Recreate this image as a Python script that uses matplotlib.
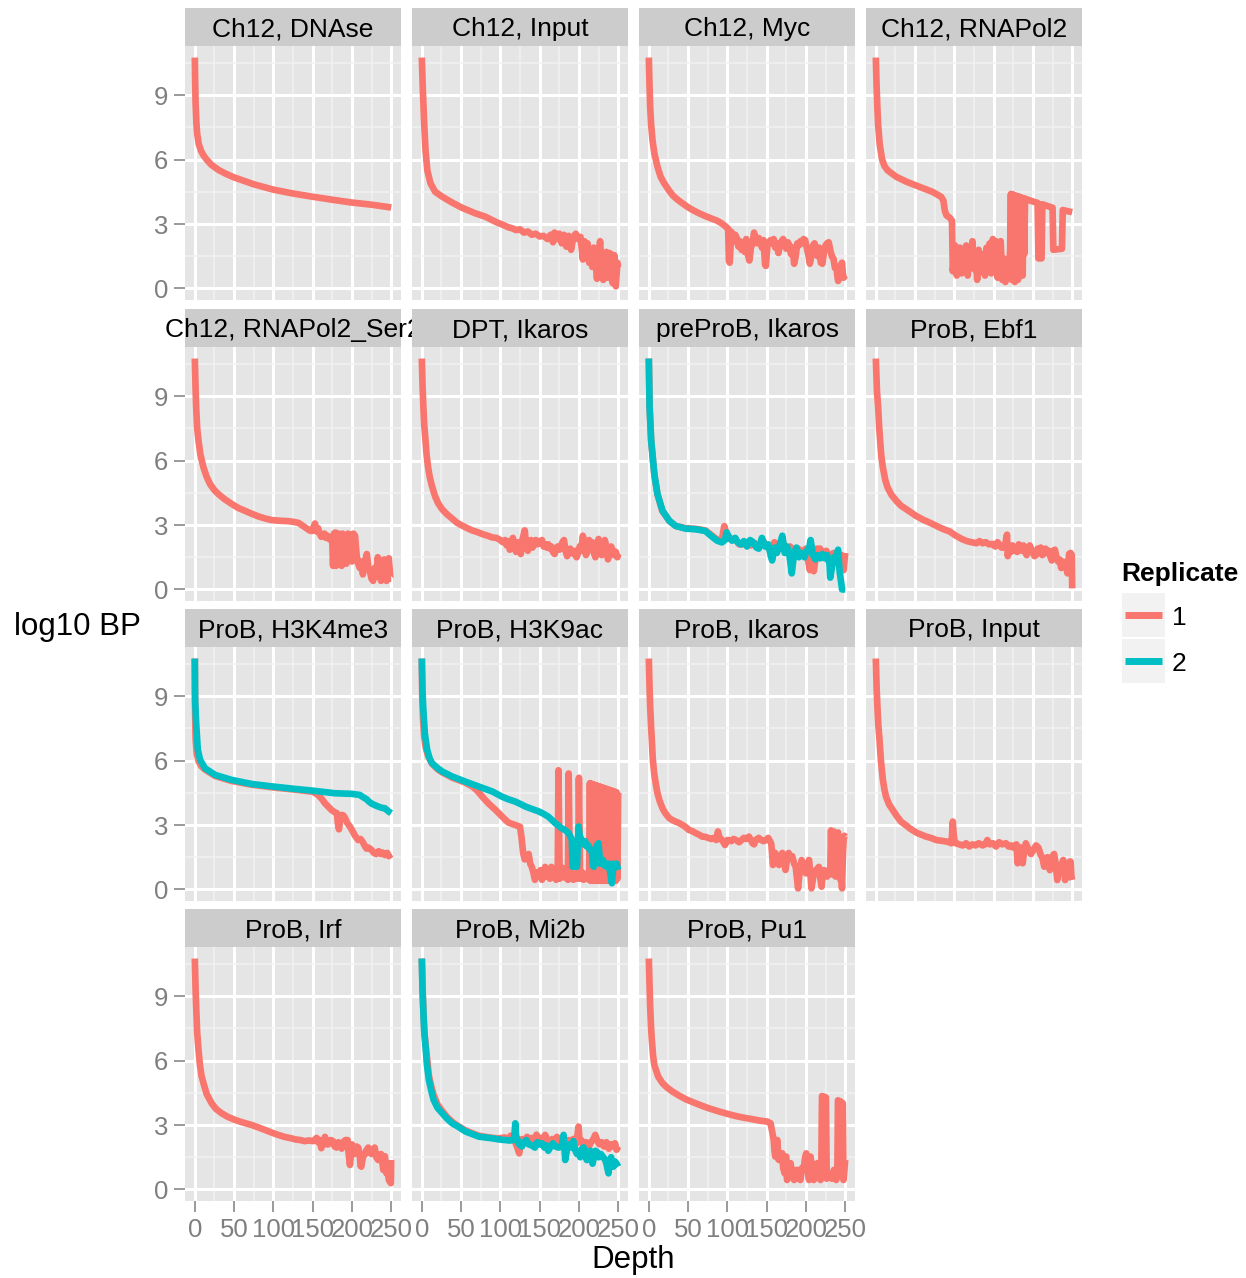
import matplotlib
matplotlib.use("Agg")
import matplotlib.pyplot as plt
from matplotlib.patches import Rectangle
from matplotlib.lines import Line2D

plt.rcParams['font.family'] = ['Liberation Sans', 'DejaVu Sans']

# ---------------- data: (depth, log10 BP) pairs ----------------
ch12_dnase_r1 = [(0,10.75),(0.5,9.5),(1,8.6),(2,7.7),(3,7.2),(5,6.72),(8,6.4),(11,6.2),(15,6.0),(21,5.76),
                 (30,5.52),(40,5.33),(50,5.17),(75,4.85),(100,4.6),(125,4.42),(150,4.27),(175,4.13),(200,4.0),
                 (225,3.9),(250,3.77)]

ch12_input_r1 = [(0,10.75),(1.3,9.24),(3,7.7),(4.7,6.44),(7,5.5),(11,4.9),(17,4.5),(26,4.27),(39,3.99),(51,3.76),
                 (68,3.5),(81,3.34),(94,3.1),(104,2.95),(110,2.85),(115,2.8),(120,2.72),(125,2.75),(130,2.6),(135,2.65),
                 (140,2.5),(145,2.55),(150,2.42),(155,2.45),(160,2.3),(164,2.5),(167,2.15),(169,2.6),(172,2.3),(175,2.55),
                 (178,2.1),(181,2.5),(184,1.95),(187,2.45),(190,1.8),(193,2.4),(196,2.55),(199,2.3),(202,2.4),(205,1.35),
                 (207,2.2),(209,1.6),(211,2.1),(213,1.2),(215,1.8),(217,1.0),(219,1.9),(221,1.4),(223,0.45),(225,1.5),
                 (227,2.2),(229,0.7),(231,0.4),(233,0.8),(235,1.7),(237,0.5),(239,1.65),(241,1.6),(243,0.25),(245,1.55),
                 (247,0.1),(249,1.2),(250,1.0)]

ch12_myc_r1 = [(0,10.75),(1,9.3),(1.7,8.46),(3,7.6),(4.7,6.9),(7,6.3),(11,5.67),(15,5.2),(19.5,4.9),(25,4.6),
               (30,4.35),(36,4.15),(43,3.96),(50,3.78),(56,3.65),(64,3.5),(72,3.37),(80,3.25),(86,3.17),(92,3.05),
               (98,2.88),(101,2.78),(102,1.3),(103,1.2),(105,2.64),(107,2.45),(108.5,2.2),(110,2.5),(112,2.35),(114,1.95),
               (116,2.2),(118,1.8),(120,2.0),(122,1.7),(124,2.3),(126,1.6),(128,1.3),(130,1.9),(132,2.1),(134,2.6),
               (136,2.3),(138,2.1),(140,2.35),(142,2.2),(144,1.9),(146,2.25),(148,1.1),(149,1.05),(151,2.0),(153,2.15),
               (155,2.25),(157,2.1),(159,2.3),(161,1.9),(163,2.1),(165,1.65),(167,2.0),(169,2.2),(171,2.3),(173,2.1),
               (175,1.85),(177,2.15),(179,2.0),(181,1.6),(183,1.9),(185,1.15),(187,1.5),(189,2.1),(191,2.0),(193,2.2),
               (195,2.1),(197,2.3),(199,2.25),(201,1.9),(203,1.6),(205,1.15),(207,1.5),(209,2.0),(211,2.1),(213,1.7),
               (215,1.5),(217,1.9),(219,1.2),(221,1.15),(223,1.7),(225,2.0),(227,2.1),(229,2.15),(231,1.8),(233,1.5),
               (235,1.4),(237,0.95),(239,1.0),(240,0.6),(241,0.35),(243,0.55),(244,1.05),(246,1.2),(247,0.7),(248,0.5),
               (250,0.6)]

ch12_rnapol2_r1 = [(0,10.75),(1,9.4),(2,8.4),(3,7.6),(5,6.7),(8,6.0),(11,5.7),(15,5.5),(26,5.2),(39,4.97),
                   (55,4.74),(72,4.5),(83,4.27),(86,4.1),(88,3.6),(90,3.4),(94,3.3),(97,3.15),(98,0.8),(101,2.0),
                   (103,0.6),(105,1.5),(107,1.9),(109,0.7),(111,1.8),(113,1.1),(115,2.0),(117,0.6),(119,1.7),(121,1.2),
                   (123,2.2),(125,0.9),(127,1.7),(129,0.4),(131,1.8),(133,0.8),(135,1.6),(137,1.4),(139,0.6),(141,1.9),
                   (143,1.0),(145,2.1),(147,0.7),(149,2.3),(151,1.3),(153,2.2),(155,0.5),(157,1.5),(159,2.2),(161,0.4),
                   (163,1.4),(165,0.3),(167,1.3),(169,0.5),(171,1.8),(172,4.4),(173,0.4),(174,4.38),(175,0.5),(176,4.35),
                   (177,0.3),(178,4.32),(179,1.0),(180,4.3),(181,0.4),(182,4.28),(183,0.8),(184,4.25),(185,1.3),(186,4.22),
                   (187,0.6),(188,4.2),(189,1.6),(190,4.18),(192,4.15),(200,4.05),(206,3.98),(207,1.4),(211,1.4),(212,3.92),
                   (220,3.82),(225,3.76),(226,1.8),(237,1.85),(238,3.65),(250,3.55)]

ch12_ser2_r1 = [(0,10.75),(1,9.3),(1.7,8.48),(3,7.5),(4.7,6.93),(7,6.3),(11,5.68),(15,5.25),(19.5,4.9),(25,4.62),
                (30,4.44),(38,4.2),(47,3.98),(55,3.8),(64,3.66),(72,3.53),(81,3.4),(90,3.3),(98,3.23),(108,3.2),
                (119,3.18),(125,3.15),(132,3.1),(138,2.95),(142,2.85),(146,2.75),(149,2.72),(151,2.9),(153,3.07),(155,2.7),
                (157,2.85),(159,2.6),(161,2.45),(163,2.55),(165,2.6),(167,2.4),(169,2.5),(171,2.35),(173,2.3),(175,2.25),
                (176,1.1),(177,2.6),(178,1.2),(179,2.65),(180,1.1),(181,2.5),(182,1.3),(183,2.6),(184,1.15),(185,2.55),
                (187,1.1),(188,2.6),(190,1.3),(192,2.5),(193,1.2),(195,2.6),(197,1.4),(199,2.55),(200,1.3),(202,2.6),
                (204,2.5),(206,1.6),(208,1.2),(210,1.0),(212,1.3),(214,0.7),(216,1.2),(219,1.65),(221,1.0),(223,0.85),
                (225,0.5),(227,0.4),(229,1.0),(231,0.6),(233,1.5),(235,0.9),(237,0.4),(239,1.1),(241,1.4),(243,0.5),
                (244,0.4),(246,1.3),(247,1.45),(249,0.5),(250,0.5)]

dpt_ikaros_r1 = [(0,10.75),(1,9.4),(2,8.48),(3,7.7),(4.7,6.93),(6,6.3),(8,5.68),(10,5.25),(12.3,4.9),(15,4.55),
                 (17.4,4.29),(21,4.0),(26,3.73),(32,3.5),(38.6,3.3),(45,3.1),(51,2.98),(58,2.85),(64,2.75),(70,2.68),
                 (77,2.58),(84,2.5),(90,2.42),(95,2.4),(100,2.3),(103,2.2),(106,2.3),(108,2.05),(110,2.25),(112,1.85),
                 (114,2.2),(116,2.4),(118,1.95),(120,1.75),(122,2.2),(124,2.05),(126,1.65),(128,2.3),(131,2.75),(133,2.0),
                 (135,1.8),(137,2.2),(139,2.3),(141,1.95),(143,2.2),(145,2.3),(147,2.1),(149,2.25),(151,2.15),(153,2.3),
                 (155,2.0),(157,2.1),(159,1.95),(161,2.1),(163,1.9),(165,2.0),(167,1.75),(169,1.65),(171,1.9),(173,2.0),
                 (175,1.85),(177,1.95),(179,2.2),(181,2.3),(183,1.8),(185,1.55),(187,1.7),(189,1.9),(191,1.75),(193,1.65),
                 (195,1.8),(197,1.5),(199,1.7),(201,2.0),(203,1.8),(205,2.5),(207,2.2),(209,1.6),(211,1.8),(213,2.3),
                 (215,1.9),(217,2.2),(219,1.7),(221,1.5),(223,1.9),(225,2.35),(227,2.0),(229,1.6),(231,1.9),(233,2.3),
                 (235,2.0),(237,1.4),(239,1.7),(241,2.0),(243,1.8),(245,1.6),(247,1.75),(249,1.5),(250,1.65)]

preprob_ikaros_r1 = [(0,10.75),(1,8.5),(3,6.9),(7,5.35),(11,4.44),(17,3.66),(26,3.2),(34,2.96),(47,2.85),(60,2.82),
                     (72,2.75),(79,2.55),(87,2.32),(93,2.3),(96,2.95),(99,2.6),(103,2.35),(110,2.35),(115,2.1),(120,2.1),
                     (125,2.2),(130,2.05),(135,2.15),(140,1.95),(145,2.3),(150,2.0),(155,1.85),(160,2.2),(165,1.9),(170,2.3),
                     (175,1.8),(180,2.0),(185,1.7),(190,1.9),(195,1.75),(200,1.9),(205,0.9),(208,1.4),(210,0.85),(214,1.9),
                     (218,1.9),(222,1.6),(226,1.8),(230,1.45),(235,1.7),(240,1.55),(245,1.6),(248,0.9),(250,1.7)]

preprob_ikaros_r2 = [(0,10.75),(1,8.48),(3,6.93),(7,5.37),(11,4.44),(17.5,3.66),(26,3.2),(34,2.96),(47,2.83),(60,2.8),
                     (72,2.72),(79,2.5),(87,2.27),(93,2.19),(97,2.3),(99,2.66),(102,2.45),(106,2.27),(110,2.4),(113,2.2),
                     (117,2.1),(121,2.25),(125,2.0),(129,2.3),(133,2.2),(137,1.95),(140,1.9),(144,2.4),(148,2.0),(152,2.1),
                     (155,1.6),(157,1.35),(160,1.95),(163,1.7),(166,2.0),(170,2.5),(173,1.7),(176,2.0),(179,1.6),(182,0.75),
                     (185,1.7),(188,1.95),(191,1.5),(194,1.7),(198,1.5),(201,1.8),(204,1.9),(206,2.3),(209,1.6),(212,1.4),
                     (215,1.6),(218,1.45),(221,1.65),(224,1.45),(227,1.6),(230,1.2),(231,0.55),(233,1.0),(236,1.5),(239,1.6),
                     (241,1.85),(243,0.8),(245,0.3),(246,0.0),(250,0.0)]

prob_ebf1_r1 = [(0,10.75),(1.5,9.2),(3,8.48),(4.2,7.6),(5.5,6.93),(7,6.2),(9,5.68),(12,5.1),(15,4.75),(20,4.4),
                (26,4.13),(32,3.9),(38.6,3.74),(45,3.58),(51,3.43),(60,3.25),(68,3.12),(75,3.0),(81,2.89),(88,2.78),
                (94,2.7),(102,2.5),(110,2.34),(116,2.25),(123,2.19),(128,2.15),(132,2.25),(136,2.15),(140,2.2),(144,2.1),
                (149,2.12),(152,2.0),(155,2.2),(157,2.1),(160,1.95),(163,1.95),(165,2.15),(167,2.55),(168,1.55),(170,2.0),
                (172,1.75),(174,2.05),(176,1.8),(178,1.9),(180,1.75),(182,2.1),(184,2.0),(186,1.8),(188,2.05),(190,1.75),
                (192,1.6),(194,1.9),(196,2.05),(198,1.85),(200,1.7),(202,1.55),(204,1.6),(206,1.9),(208,1.7),(210,1.95),
                (212,1.6),(214,1.65),(216,1.9),(218,1.75),(220,1.8),(222,1.55),(224,1.35),(226,1.8),(228,1.85),(230,1.5),
                (232,1.3),(234,1.4),(236,1.0),(238,1.3),(240,1.2),(242,1.1),(244,0.75),(246,1.65),(248,1.7),(249.5,1.6),
                (250,0.05)]

prob_h3k4me3_r1 = [(0,10.75),(0.3,8.5),(1,7.0),(2.5,6.3),(5,5.95),(8,5.75),(13,5.58),(26,5.28),(47,5.05),(72,4.88),
                   (100,4.75),(127,4.65),(150,4.55),(157,4.4),(162,4.2),(166,4.0),(170,3.85),(174,3.7),(178,3.6),(181,3.55),
                   (182,3.1),(183.5,2.8),(185,3.2),(187,3.47),(189,3.45),(191,3.35),(194,3.1),(197,2.95),(200,2.77),(204,2.5),
                   (208,2.3),(211,2.35),(214,2.2),(216,2.05),(218.6,1.9),(221,1.95),(225,1.84),(228,1.7),(231,1.65),(234,1.78),
                   (237,1.65),(239,1.72),(242,1.6),(245,1.7),(247,1.55),(250,1.65)]

prob_h3k4me3_r2 = [(0,10.75),(0.4,8.8),(1.7,7.74),(3.8,6.5),(6.8,6.03),(13,5.64),(26,5.33),(47,5.1),(72.5,4.91),(100,4.79),
                   (127.5,4.68),(150,4.6),(178,4.48),(200,4.45),(210,4.4),(214,4.3),(218.6,4.2),(222,4.08),(225,4.0),(229,3.93),
                   (233.5,3.86),(238,3.8),(242,3.78),(246,3.65),(250,3.55)]

prob_h3k9ac_r1 = [(0,10.75),(0.5,9.0),(1.5,8.0),(3,7.1),(5,6.6),(8,6.2),(13,5.85),(20,5.6),(26,5.45),(39,5.2),
                  (55,4.98),(64,4.8),(70,4.62),(77,4.32),(85,4.0),(94,3.7),(102,3.4),(110,3.12),(115,3.05),(119,3.0),
                  (125,2.92),(127,2.4),(129,1.7),(131,1.4),(133,1.5),(136,1.65),(138,1.2),(140,1.05),(142,0.8),(144,0.45),
                  (147,0.8),(149,0.65),(151,0.9),(153,0.45),(155,0.7),(157,1.05),(159,0.6),(161,0.75),(163,0.5),(165,1.05),
                  (167,0.55),(169,0.6),(171,0.45),(173,0.7),(174,5.55),(175.5,0.5),(178,0.6),(180,1.0),(182,0.55),(184,0.8),
                  (186,0.45),(187,5.4),(188.5,0.6),(191,0.8),(193,0.45),(195,0.65),(197,0.5),(199,0.6),(200,5.2),(201.5,0.5),
                  (204,0.8),(206,0.45),(208,0.7),(210,0.5),(212,0.8),(213,0.45),(214,4.95),(215,0.4),(216,4.92),(217,0.5),
                  (218,4.9),(219,0.4),(220,4.87),(221,0.6),(222,4.85),(223,0.4),(224,4.82),(225,0.5),(226,4.8),(227,0.4),
                  (228,4.77),(229,0.7),(230,4.75),(231,0.4),(232,4.72),(233,0.5),(234,4.7),(235,0.4),(236,4.67),(237,0.6),
                  (238,4.65),(239,0.4),(240,4.62),(241,0.5),(242,4.6),(243,0.4),(244,4.57),(245,0.5),(246,4.55),(247,0.4),
                  (248,4.52),(249,0.5),(250,4.5)]

prob_h3k9ac_r2 = [(0,10.75),(0.8,9.3),(1.7,8.52),(3.8,7.27),(6.8,6.5),(10,6.1),(13,5.88),(20,5.65),(26,5.49),(38.6,5.26),
                  (55.5,5.02),(72.5,4.79),(89.8,4.56),(102,4.32),(110,4.2),(119,4.09),(126,3.97),(132,3.86),(140,3.75),(149,3.63),
                  (155,3.52),(161,3.39),(166,3.22),(170,3.08),(174,2.97),(178,2.85),(183,2.75),(187,2.62),(190,2.4),(191,2.31),
                  (192,1.06),(197.5,1.06),(199.6,2.93),(201,2.5),(203.8,2.27),(206,2.1),(208,2.25),(210,2.0),(212,2.05),(214,1.85),
                  (216.5,1.8),(218,1.1),(219,1.06),(221.6,1.95),(223,2.05),(225,2.15),(227,1.2),(229,1.4),(231,1.35),(233,1.1),
                  (235.6,1.06),(238,1.2),(240,0.75),(242,0.29),(244,1.2),(246,1.05),(248,1.2),(250,0.91)]

prob_ikaros_r1 = [(0,10.75),(1,9.3),(1.7,8.52),(3,7.5),(3.8,6.97),(5,6.1),(6.8,5.41),(9,4.9),(11,4.48),(14,4.1),
                  (17.4,3.78),(21,3.55),(26,3.32),(30,3.23),(34,3.16),(38,3.1),(43,3.0),(47,2.9),(51,2.77),(55,2.72),
                  (60,2.62),(64,2.55),(68,2.46),(72,2.45),(77,2.38),(80,2.35),(83,2.4),(86,2.3),(88,2.7),(90,2.4),
                  (92,2.35),(95,2.2),(97,2.07),(100,2.3),(102,2.3),(105,2.25),(108,2.35),(111,2.3),(115,2.2),(118,2.3),
                  (121,2.4),(124,2.35),(127.5,2.46),(130,2.3),(132,2.15),(134,2.1),(136,2.3),(138,2.35),(140,2.4),(143,2.3),
                  (146,2.25),(149,2.3),(152,2.4),(155,2.2),(156,2.1),(158,1.14),(160,1.4),(161,1.7),(163,1.5),(165.7,1.14),
                  (168,1.5),(170,1.7),(172,1.3),(174,0.91),(176,1.4),(178,1.7),(180,1.5),(182.6,1.55),(185,1.2),(187,1.05),
                  (189,0.4),(190,0.05),(192,0.8),(194.5,1.37),(197,1.1),(200,0.75),(202,1.1),(204,1.37),(206,0.6),(207,0.05),
                  (209,0.5),(210,0.75),(213,0.9),(216.5,1.05),(218,0.6),(220,0.13),(221,0.6),(223,0.9),(225,0.8),(227,0.6),
                  (229,0.9),(230,0.9),(231,0.8),(232,2.75),(233,0.7),(234,0.8),(235.5,2.7),(236.5,1.1),(237.7,0.6),(239,1.0),
                  (240,2.6),(241,2.65),(242,1.0),(244,0.45),(245,0.6),(246,0.05),(247,1.5),(248,2.3),(249,2.5),(250,2.45)]

prob_input_r1 = [(0,10.75),(1,9.4),(2,8.52),(3.3,7.6),(4.7,6.97),(6.5,6.0),(9,5.1),(11,4.65),(13,4.32),(17,3.95),
                 (21.6,3.7),(27,3.4),(32,3.16),(38,3.0),(43,2.85),(48,2.73),(53,2.62),(58,2.55),(64,2.46),(70,2.4),
                 (77,2.3),(83,2.27),(89.8,2.23),(93,2.2),(96,2.15),(97,2.5),(98,3.16),(99,2.6),(100,2.3),(102,2.15),
                 (106,2.1),(110.6,2.05),(115,2.15),(119,2.0),(123,2.1),(127,2.05),(131,2.15),(136,2.05),(139,2.1),(142,2.3),
                 (145,2.1),(149,2.15),(153,2.0),(157,2.2),(161,2.1),(165.7,2.15),(169,2.0),(172,2.05),(174,1.96),(177,2.05),
                 (179,2.1),(180.5,1.22),(182,1.8),(184,1.96),(185.5,1.7),(187,1.22),(189,1.85),(191,2.15),(194,1.9),(197.5,1.65),
                 (200,1.8),(204,2.05),(207,1.95),(210,1.6),(212,1.5),(214.4,1.06),(216,1.3),(218.6,1.5),(220,1.2),(221.6,0.9),
                 (223,1.3),(225,1.55),(227,1.65),(229,1.2),(231,0.44),(233,0.9),(235.6,0.9),(237,1.2),(238.6,1.37),(240,0.8),
                 (241,0.44),(243,0.8),(245,0.9),(247,1.3),(248,1.3),(249,0.6),(250,0.44)]

prob_irf_r1 = [(0,10.75),(1,9.3),(1.7,8.52),(3,7.3),(4.7,6.5),(6.5,5.8),(8.5,5.3),(11,4.95),(15,4.45),(21.6,4.0),
               (27,3.75),(34,3.55),(42,3.38),(51,3.24),(60,3.13),(72.5,3.0),(80,2.9),(89.4,2.77),(97,2.66),(106,2.54),
               (114,2.45),(123,2.38),(128,2.33),(134,2.3),(140,2.25),(145,2.28),(151,2.25),(155,2.4),(157,2.2),(159,2.3),
               (161,1.92),(163,2.2),(165.7,2.45),(168,2.1),(170,2.1),(173,2.3),(176,2.25),(178,2.0),(180.5,1.95),(183,2.2),
               (185,2.05),(187,1.9),(190,2.25),(192,2.3),(194.5,2.3),(196,1.6),(197.5,1.14),(199,1.7),(200,2.1),(202,1.8),
               (204,1.65),(206,2.0),(208,1.95),(210,1.6),(211,1.1),(212,1.06),(214,1.5),(216.5,1.65),(218,1.8),(220.8,1.95),
               (223,1.7),(225,1.65),(227,1.8),(229,1.95),(231,1.5),(233.5,1.37),(235,1.5),(237,1.65),(239,1.2),(240,0.91),
               (242,1.55),(244,0.75),(245,1.1),(247,0.44),(249.6,0.29),(250,1.37)]

prob_mi2b_r1 = [(0,10.75),(1,9.3),(2,8.3),(3.3,7.3),(5.5,6.5),(9,5.3),(12,4.8),(15,4.4),(20,3.95),(26,3.65),
                (32,3.38),(38.6,3.15),(45,2.98),(55.5,2.75),(64,2.62),(72.5,2.5),(81,2.45),(89.8,2.4),(98,2.38),(106,2.42),
                (110,2.3),(113,2.5),(116,2.35),(119,2.2),(122,1.9),(124,1.68),(126,2.2),(128,2.35),(131,2.2),(134,2.45),
                (137,2.25),(140,2.4),(143,2.2),(146,2.55),(149,2.3),(152,2.4),(155,2.25),(157,2.54),(160,2.3),(163,2.1),
                (166,2.35),(169,2.2),(172,2.45),(175,2.3),(178,2.1),(181,2.2),(184,1.8),(187,2.3),(190,2.1),(193,2.35),
                (196,2.1),(198,2.5),(199.6,2.93),(201,2.2),(203,2.3),(206,2.05),(209,2.2),(212,1.9),(215,2.2),(218,2.3),
                (220.8,2.54),(223,2.3),(226,2.1),(229,2.2),(232,2.0),(235,2.2),(238,1.9),(241,2.1),(244,2.0),(246,2.15),
                (248,1.85),(250,2.0)]

prob_mi2b_r2 = [(0,10.75),(0.8,9.4),(1.7,8.52),(3,7.4),(4.7,6.66),(6.5,5.8),(9,5.1),(12,4.6),(15,4.17),(20,3.8),
                (26,3.55),(32,3.3),(38.6,3.08),(45,2.95),(55.5,2.7),(64,2.58),(72.5,2.46),(81,2.42),(89.8,2.38),(98,2.33),
                (106,2.3),(112,2.28),(117,2.3),(118,2.6),(119,3.08),(120,2.5),(122,2.3),(124,2.1),(127.5,2.0),(130,2.2),
                (133,2.3),(136,2.1),(140,2.05),(144,1.95),(147,2.2),(150,2.1),(153,2.15),(156,1.95),(159,2.05),(161,1.8),
                (164,2.0),(167,2.15),(170,2.0),(174,1.95),(178,2.0),(180.5,2.54),(182.6,1.37),(185,1.9),(188,2.1),(191,1.95),
                (193,2.25),(195,1.85),(197.5,1.65),(200,1.8),(201.7,1.5),(204,1.9),(206,1.96),(208,1.6),(210,1.37),(212,1.7),
                (214.4,1.8),(216,1.4),(217.4,1.2),(219,1.5),(221,1.8),(223,1.75),(225,1.5),(228,1.65),(231,1.5),(233.5,1.37),
                (235,1.2),(237.7,0.75),(239,1.3),(241,1.5),(243,1.1),(244,1.06),(246,1.3),(248,1.2),(250,1.06)]

prob_pu1_r1 = [(0,10.75),(1,9.4),(1.7,8.52),(2.8,7.6),(3.8,6.97),(5.5,6.2),(7,5.8),(9,5.57),(12,5.25),(17.4,4.95),
               (23,4.75),(30,4.56),(38,4.38),(47,4.2),(57,4.05),(68,3.89),(78,3.76),(89.4,3.63),(100,3.52),(110.6,3.42),
               (121,3.34),(132,3.27),(142,3.2),(150.8,3.16),(155,3.08),(157,2.7),(159,2.3),(160,1.8),(161,1.53),(162,2.1),
               (163.6,2.3),(165,1.4),(165.7,1.37),(168,1.65),(170,1.68),(171,1.0),(173,0.75),(174,1.5),(175,1.53),(176,0.44),
               (178,0.7),(180.5,1.22),(183,0.6),(185,0.44),(187,0.9),(189,0.91),(191,0.5),(193,0.44),(195,1.0),(197.5,1.06),
               (199,1.5),(200.4,1.68),(202,1.0),(204,0.44),(205,1.2),(206,1.53),(208,0.8),(210,0.44),(212,0.9),(214.4,1.22),
               (216,0.6),(218.6,0.44),(219.5,0.6),(220.5,4.35),(223,4.32),(225.5,4.28),(226.5,0.5),(228,0.6),(231,0.75),(233,0.5),
               (235.6,0.91),(237,0.6),(238.6,0.44),(240,0.7),(240.8,4.15),(244,4.1),(247,4.01),(247.8,0.44),(249,0.9),(250,1.37)]

panel_titles = ["Ch12, DNAse", "Ch12, Input", "Ch12, Myc", "Ch12, RNAPol2",
                "Ch12, RNAPol2_Ser2", "DPT, Ikaros", "preProB, Ikaros", "ProB, Ebf1",
                "ProB, H3K4me3", "ProB, H3K9ac", "ProB, Ikaros", "ProB, Input",
                "ProB, Irf", "ProB, Mi2b", "ProB, Pu1"]
panel_rep1 = [ch12_dnase_r1, ch12_input_r1, ch12_myc_r1, ch12_rnapol2_r1,
              ch12_ser2_r1, dpt_ikaros_r1, preprob_ikaros_r1, prob_ebf1_r1,
              prob_h3k4me3_r1, prob_h3k9ac_r1, prob_ikaros_r1, prob_input_r1,
              prob_irf_r1, prob_mi2b_r1, prob_pu1_r1]
panel_rep2 = [None, None, None, None,
              None, None, preprob_ikaros_r2, None,
              prob_h3k4me3_r2, prob_h3k9ac_r2, None, None,
              None, prob_mi2b_r2, None]
replicate_labels = ["1", "2"]
replicate_colors = ["#F8766D", "#00BFC4"]
x_ticks = [0, 50, 100, 150, 200, 250]
x_minor = [25, 75, 125, 175, 225]
y_ticks = [0, 3, 6, 9]
y_minor = [1.5, 4.5, 7.5, 10.5]

# ---------------- layout (pixels) ----------------
W, H = 1246, 1278
fig = plt.figure(figsize=(W / 100, H / 100), dpi=100)


def fx(x):
    return x / W


def fy(y):
    return 1 - y / H


COL_LEFT = [185, 412, 639, 866]
PANEL_TOP = [46, 347, 647, 947]
PW, PH = 216, 254
STRIP_H = 38
GREY = "#7F7F7F"
LW = 4.8

for i, title in enumerate(panel_titles):
    r, c = divmod(i, 4)
    left, top = COL_LEFT[c], PANEL_TOP[r]
    ax = fig.add_axes([fx(left), fy(top + PH), PW / W, PH / H])
    ax.set_facecolor("#E5E5E5")
    for s in ax.spines.values():
        s.set_visible(False)
    ax.set_xlim(-12.5, 262.5)
    ax.set_ylim(-0.5375, 11.2875)
    ax.set_xticks(x_ticks)
    ax.set_xticks(x_minor, minor=True)
    ax.set_yticks(y_ticks)
    ax.set_yticks(y_minor, minor=True)
    ax.grid(which="major", color="white", lw=2.2)
    ax.grid(which="minor", color="#F2F2F2", lw=1.1)
    ax.set_axisbelow(True)
    ax.tick_params(which="minor", length=0)
    ax.tick_params(which="major", length=8, width=1.1, color=GREY,
                   labelcolor=GREY, labelsize=18.5, pad=4)
    ax.set_xticklabels([str(v) for v in x_ticks])
    ax.set_yticklabels([str(v) for v in y_ticks])
    if r != 3:
        ax.tick_params(axis="x", bottom=False, labelbottom=False)
    if c != 0:
        ax.tick_params(axis="y", left=False, labelleft=False)

    for k, series in enumerate([panel_rep1[i], panel_rep2[i]]):
        if series is None:
            continue
        xs = [p[0] for p in series]
        ys = [p[1] for p in series]
        ax.plot(xs, ys, color=replicate_colors[k], lw=LW,
                solid_capstyle="butt", solid_joinstyle="round", clip_on=False)

    sax = fig.add_axes([fx(left), fy(top), PW / W, STRIP_H / H])
    sax.set_facecolor("#CCCCCC")
    sax.set_xticks([])
    sax.set_yticks([])
    for s in sax.spines.values():
        s.set_visible(False)
    sax.text(0.5, 0.26, title, transform=sax.transAxes, ha="center",
             va="baseline", fontsize=19, color="black", clip_on=False)

# axis titles
fig.text(fx(77), fy(635), "log10 BP", ha="center", va="baseline", fontsize=22.5)
fig.text(fx(633), fy(1268), "Depth", ha="center", va="baseline", fontsize=22.5)

# legend
fig.text(fx(1121), fy(581), "Replicate", ha="left", va="baseline",
         fontsize=19, fontweight="bold")
key_tops = [593.3, 639.3]
for k, lab in enumerate(replicate_labels):
    kt = key_tops[k]
    fig.add_artist(Rectangle((fx(1121.7), fy(kt + 44)), 43.3 / W, 44 / H,
                             transform=fig.transFigure, fc="#F2F2F2", ec="none"))
    fig.add_artist(Line2D([fx(1125), fx(1162)], [fy(kt + 22)] * 2,
                          transform=fig.transFigure, color=replicate_colors[k],
                          lw=5, solid_capstyle="butt"))
    fig.text(fx(1172), fy(kt + 32), lab, ha="left", va="baseline", fontsize=19)

fig.savefig("out.png", dpi=100)
